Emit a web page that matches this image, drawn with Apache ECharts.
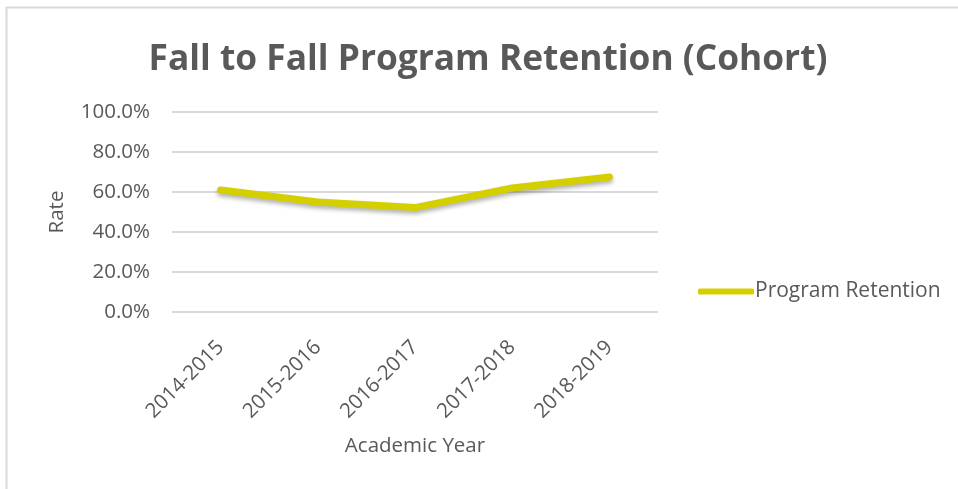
<!DOCTYPE html>
<html><head><meta charset="utf-8">
<script src="https://cdn.jsdelivr.net/npm/echarts@6/dist/echarts.min.js"></script>
<style>html,body{margin:0;padding:0;background:#fff}#c{width:958px;height:489px}</style>
</head><body><div id="c"></div>
<script>
const categories = ['2014-2015','2015-2016','2016-2017','2017-2018','2018-2019'];
const retention = [61.0, 55.0, 52.2, 62.0, 67.5];
const seriesName = 'Program Retention';
const titleText = 'Fall to Fall Program Retention (Cohort)';

const chart = echarts.init(document.getElementById('c'), null, {renderer:'canvas'});
const grey = '#595959';
const font = '"Open Sans", "Noto Sans", sans-serif';
chart.setOption({
  animation:false,
  backgroundColor:'#fff',
  title:{text:titleText, left:483, top:37, textAlign:'center',
    textStyle:{fontFamily:font, fontSize:35.3, fontWeight:'bold', color:grey}},
  legend:{data:[{name:seriesName, icon:'roundRect'}], left:693, top:276, itemWidth:56, itemHeight:6,
    itemGap:4, textStyle:{fontFamily:font, fontSize:21, color:grey, padding:[0,0,0,-4]}},
  grid:{left:172, right:300, top:112, bottom:177, containLabel:false},
  xAxis:{type:'category', data:categories, boundaryGap:true,
    name:'Academic Year', nameLocation:'middle', nameGap:124,
    nameTextStyle:{fontFamily:font, fontSize:20.5, color:grey},
    axisLine:{show:false}, axisTick:{show:false},
    axisLabel:{rotate:45, fontFamily:font, fontSize:20.5, color:grey, margin:32}},
  yAxis:{type:'value', min:0, max:100, interval:20,
    name:'Rate', nameLocation:'middle', nameGap:104, nameRotate:90,
    nameTextStyle:{fontFamily:font, fontSize:20.5, color:grey},
    axisLine:{show:false}, axisTick:{show:false},
    axisLabel:{formatter:v=>v.toFixed(1)+'%', fontFamily:font, fontSize:20.5, color:grey, margin:22},
    splitLine:{lineStyle:{color:'#d9d9d9', width:2}}},
  series:[{name:seriesName, type:'line', data:retention, symbol:'none',
    lineStyle:{color:'#d4d000', width:7, cap:'round', join:'round',
      shadowColor:'rgba(0,0,0,0.3)', shadowBlur:4, shadowOffsetY:3},
    itemStyle:{color:'#d4d000'}}],
  graphic:[
    {type:'line', shape:{x1:6.5, y1:7, x2:6.5, y2:489}, style:{stroke:'#d9d9d9', lineWidth:2}},
    {type:'line', shape:{x1:6, y1:7.5, x2:958, y2:7.5}, style:{stroke:'#d9d9d9', lineWidth:2}}
  ]
});
</script></body></html>
